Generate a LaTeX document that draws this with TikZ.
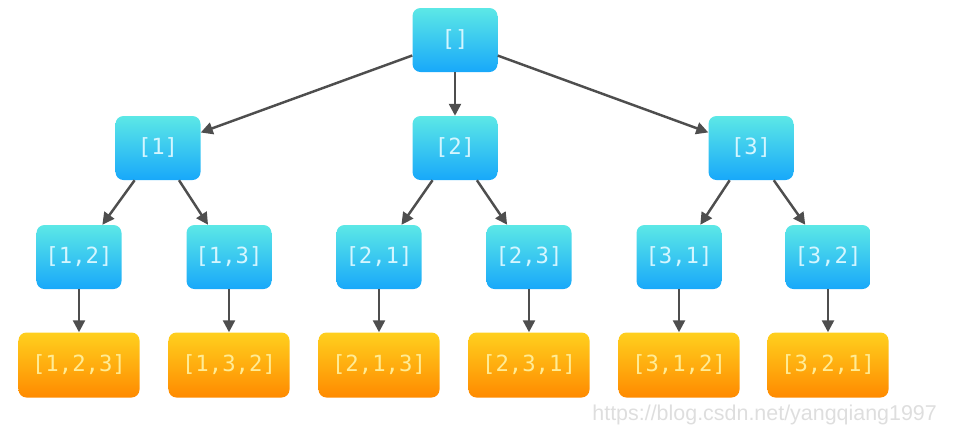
\documentclass[tikz,border=0pt]{standalone}
\usepackage{fontspec}
\newfontfamily\boxfont{DejaVu Sans Mono}
\newfontfamily\markfont{Liberation Sans}
\usetikzlibrary{arrows.meta,positioning}
\definecolor{bluetop}{RGB}{92,232,230}
\definecolor{bluebot}{RGB}{24,168,250}
\definecolor{oratop}{RGB}{255,208,30}
\definecolor{orabot}{RGB}{255,138,0}
\definecolor{bluetxt}{RGB}{212,246,255}
\definecolor{oratxt}{RGB}{255,236,150}
\definecolor{edgegray}{RGB}{78,78,78}
\definecolor{markgray}{RGB}{222,222,222}
\tikzset{
  pbox/.style={rounded corners=0.24cm, minimum width=2.55cm, minimum height=1.92cm,
      top color=bluetop, bottom color=bluebot, draw=none, text=bluetxt,
      font=\boxfont\fontsize{19}{22}\selectfont},
  leaf/.style={pbox, minimum width=3.63cm, minimum height=1.95cm,
      top color=oratop, bottom color=orabot, text=oratxt},
  earr/.style={-{Triangle[length=3.6mm, width=3.6mm]}, edgegray, line width=2.1pt},
}

\begin{document}
\begin{tikzpicture}[x=0.03cm, y=-0.03cm]
  \useasboundingbox (0,0) rectangle (955,439);
  % root and first choice
  \node[pbox] (r) at (455,40) {[]};
  \node[pbox] (a1) at (158,148) {[1]};
  \node[pbox] (a2) at (455,148) {[2]};
  \node[pbox] (a3) at (751,148) {[3]};
  % second choice
  \node[pbox] (b12) at (79,257) {[1,2]};
  \node[pbox] (b13) at (229,257) {[1,3]};
  \node[pbox] (b21) at (379,257) {[2,1]};
  \node[pbox] (b23) at (529,257) {[2,3]};
  \node[pbox] (b31) at (679,257) {[3,1]};
  \node[pbox] (b32) at (828,257) {[3,2]};
  % full permutations
  \node[leaf] (c123) at (79,365) {[1,2,3]};
  \node[leaf] (c132) at (229,365) {[1,3,2]};
  \node[leaf] (c213) at (379,365) {[2,1,3]};
  \node[leaf] (c231) at (529,365) {[2,3,1]};
  \node[leaf] (c312) at (679,365) {[3,1,2]};
  \node[leaf] (c321) at (828,365) {[3,2,1]};
  \draw[earr] (r) -- (a1);
  \draw[earr] (r) -- (a2);
  \draw[earr] (r) -- (a3);
  \draw[earr] (a1) -- (b12);
  \draw[earr] (a1) -- (b13);
  \draw[earr] (a2) -- (b21);
  \draw[earr] (a2) -- (b23);
  \draw[earr] (a3) -- (b31);
  \draw[earr] (a3) -- (b32);
  \draw[earr] (b12) -- (c123);
  \draw[earr] (b13) -- (c132);
  \draw[earr] (b21) -- (c213);
  \draw[earr] (b23) -- (c231);
  \draw[earr] (b31) -- (c312);
  \draw[earr] (b32) -- (c321);
  \node[markgray, font=\markfont\fontsize{18.3}{20}\selectfont, anchor=east] (wm) at (941,415) {https://blog.csdn.net/yangqiang1997};
\end{tikzpicture}
\end{document}
